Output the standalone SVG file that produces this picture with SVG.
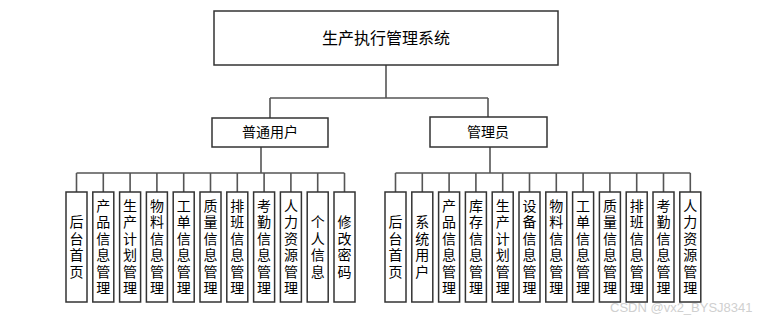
<svg xmlns="http://www.w3.org/2000/svg" width="768" height="322" viewBox="0 0 768 322">
<style>
.box{fill:#fff;stroke:#333;stroke-width:1.5}
.ln{stroke:#555;stroke-width:1.6;fill:none}
.t{font-family:"Noto Sans CJK SC","Microsoft YaHei",sans-serif;fill:#000;text-anchor:middle}
.v{font-size:14px;writing-mode:vertical-rl;letter-spacing:2.5px;text-orientation:upright}
.wm{font-family:"Liberation Sans",Arial,sans-serif;font-size:13px;fill:#d0d0d0}
</style>
<rect width="768" height="322" fill="#fff"/>
<g id="connectors">
<path class="ln" d="M386 65V98M270 98H488M270 98V118M488 98V117"/>
<path class="ln" d="M261 147V173M76.5 173H344.5M76.5 173V192M103.3 173V192M130.1 173V192M156.9 173V192M183.7 173V192M210.5 173V192M237.3 173V192M264.1 173V192M290.9 173V192M317.7 173V192M344.5 173V192"/>
<path class="ln" d="M490 147V173M395.5 173H690.3M395.5 173V192M422.3 173V192M449.1 173V192M475.9 173V192M502.7 173V192M529.5 173V192M556.3 173V192M583.1 173V192M609.9 173V192M636.7 173V192M663.5 173V192M690.3 173V192"/>
</g>
<g id="root"><rect class="box" x="214" y="11" width="344" height="54"/><text class="t" x="386" y="44" font-size="16">生产执行管理系统</text></g>
<g id="user"><rect class="box" x="212" y="118" width="116" height="29"/><text class="t" x="270" y="137" font-size="14">普通用户</text></g>
<g id="admin"><rect class="box" x="430" y="117" width="117" height="30"/><text class="t" x="488" y="137" font-size="14">管理员</text></g>
<g id="u1"><rect class="box" x="66" y="192" width="21" height="110"/><text class="t v" x="76.5" y="248">后台首页</text></g>
<g id="u2"><rect class="box" x="92.8" y="192" width="21" height="110"/><text class="t v" x="103.3" y="248">产品信息管理</text></g>
<g id="u3"><rect class="box" x="119.6" y="192" width="21" height="110"/><text class="t v" x="130.1" y="248">生产计划管理</text></g>
<g id="u4"><rect class="box" x="146.4" y="192" width="21" height="110"/><text class="t v" x="156.9" y="248">物料信息管理</text></g>
<g id="u5"><rect class="box" x="173.2" y="192" width="21" height="110"/><text class="t v" x="183.7" y="248">工单信息管理</text></g>
<g id="u6"><rect class="box" x="200" y="192" width="21" height="110"/><text class="t v" x="210.5" y="248">质量信息管理</text></g>
<g id="u7"><rect class="box" x="226.8" y="192" width="21" height="110"/><text class="t v" x="237.3" y="248">排班信息管理</text></g>
<g id="u8"><rect class="box" x="253.6" y="192" width="21" height="110"/><text class="t v" x="264.1" y="248">考勤信息管理</text></g>
<g id="u9"><rect class="box" x="280.4" y="192" width="21" height="110"/><text class="t v" x="290.9" y="248">人力资源管理</text></g>
<g id="u10"><rect class="box" x="307.2" y="192" width="21" height="110"/><text class="t v" x="317.7" y="248">个人信息</text></g>
<g id="u11"><rect class="box" x="334" y="192" width="21" height="110"/><text class="t v" x="344.5" y="248">修改密码</text></g>
<g id="a1"><rect class="box" x="385" y="192" width="21" height="110"/><text class="t v" x="395.5" y="248">后台首页</text></g>
<g id="a2"><rect class="box" x="411.8" y="192" width="21" height="110"/><text class="t v" x="422.3" y="248">系统用户</text></g>
<g id="a3"><rect class="box" x="438.6" y="192" width="21" height="110"/><text class="t v" x="449.1" y="248">产品信息管理</text></g>
<g id="a4"><rect class="box" x="465.4" y="192" width="21" height="110"/><text class="t v" x="475.9" y="248">库存信息管理</text></g>
<g id="a5"><rect class="box" x="492.2" y="192" width="21" height="110"/><text class="t v" x="502.7" y="248">生产计划管理</text></g>
<g id="a6"><rect class="box" x="519" y="192" width="21" height="110"/><text class="t v" x="529.5" y="248">设备信息管理</text></g>
<g id="a7"><rect class="box" x="545.8" y="192" width="21" height="110"/><text class="t v" x="556.3" y="248">物料信息管理</text></g>
<g id="a8"><rect class="box" x="572.6" y="192" width="21" height="110"/><text class="t v" x="583.1" y="248">工单信息管理</text></g>
<g id="a9"><rect class="box" x="599.4" y="192" width="21" height="110"/><text class="t v" x="609.9" y="248">质量信息管理</text></g>
<g id="a10"><rect class="box" x="626.2" y="192" width="21" height="110"/><text class="t v" x="636.7" y="248">排班信息管理</text></g>
<g id="a11"><rect class="box" x="653" y="192" width="21" height="110"/><text class="t v" x="663.5" y="248">考勤信息管理</text></g>
<g id="a12"><rect class="box" x="679.8" y="192" width="21" height="110"/><text class="t v" x="690.3" y="248">人力资源管理</text></g>
<text class="wm" x="610" y="312">CSDN @vx2_BYSJ8341</text>
</svg>
